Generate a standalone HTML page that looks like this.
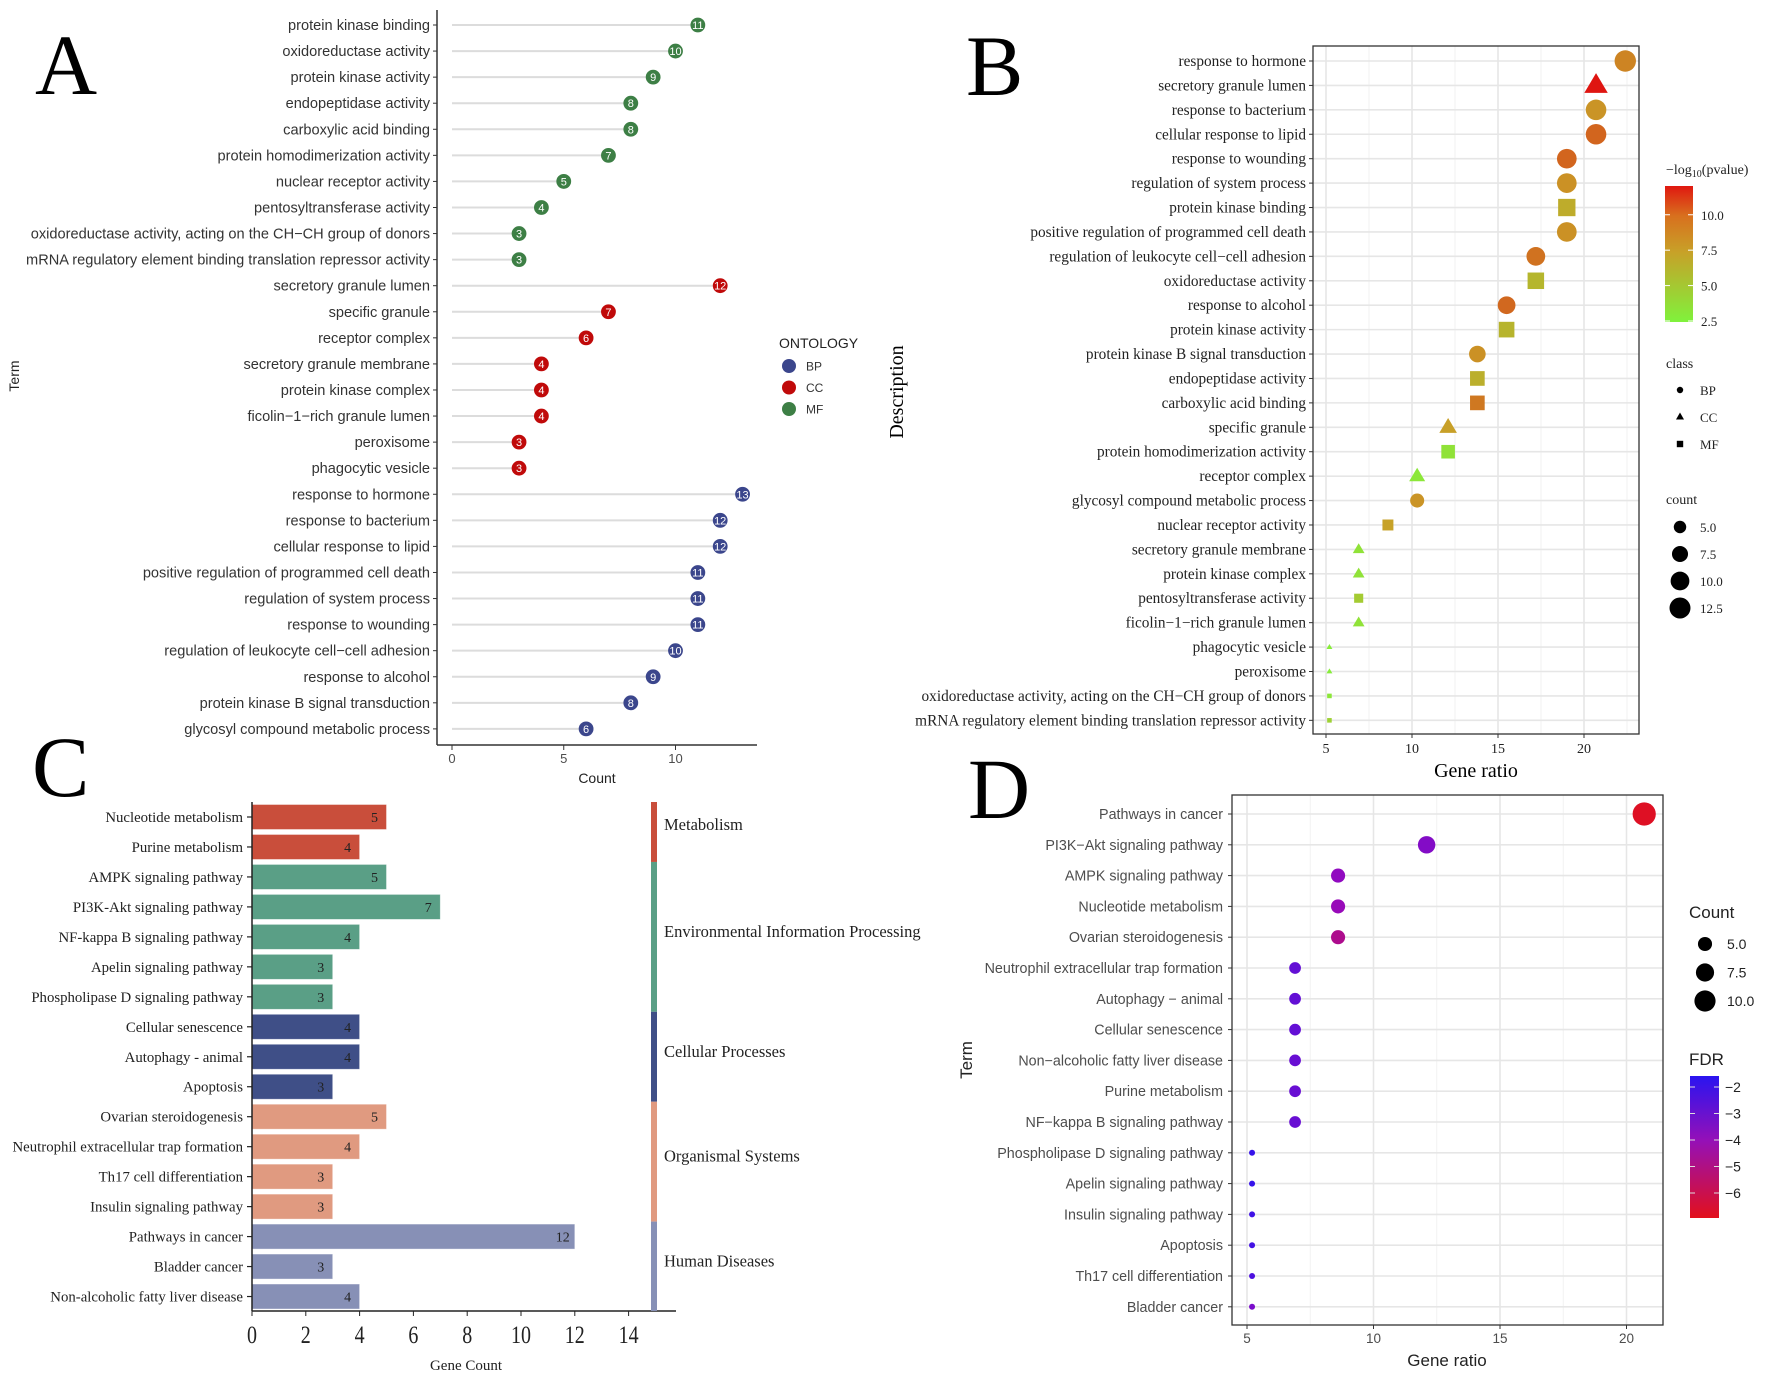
<!DOCTYPE html>
<html><head><meta charset="utf-8"><style>
html,body{margin:0;padding:0;background:#fff}
svg{display:block}
.sans{font-family:"Liberation Sans",sans-serif}
.serif{font-family:"Liberation Serif",serif}
</style></head><body>
<svg id="fig" width="1772" height="1376" viewBox="0 0 1772 1376" xmlns="http://www.w3.org/2000/svg">
<g id="pA"></g>
<g id="pB"></g>
<g id="pC"></g>
<g id="pD"></g>
</svg>
<script>
// ---------- Panel A data ----------
const aTerms = ["protein kinase binding","oxidoreductase activity","protein kinase activity","endopeptidase activity","carboxylic acid binding","protein homodimerization activity","nuclear receptor activity","pentosyltransferase activity","oxidoreductase activity, acting on the CH\u2212CH group of donors","mRNA regulatory element binding translation repressor activity","secretory granule lumen","specific granule","receptor complex","secretory granule membrane","protein kinase complex","ficolin\u22121\u2212rich granule lumen","peroxisome","phagocytic vesicle","response to hormone","response to bacterium","cellular response to lipid","positive regulation of programmed cell death","regulation of system process","response to wounding","regulation of leukocyte cell\u2212cell adhesion","response to alcohol","protein kinase B signal transduction","glycosyl compound metabolic process"];
const aCounts = [11,10,9,8,8,7,5,4,3,3,12,7,6,4,4,4,3,3,13,12,12,11,11,11,10,9,8,6];
const aOnt = ["MF","MF","MF","MF","MF","MF","MF","MF","MF","MF","CC","CC","CC","CC","CC","CC","CC","CC","BP","BP","BP","BP","BP","BP","BP","BP","BP","BP"];
const aTicks = [0,5,10];
// ---------- Panel B data ----------
const bTerms = ["response to hormone","secretory granule lumen","response to bacterium","cellular response to lipid","response to wounding","regulation of system process","protein kinase binding","positive regulation of programmed cell death","regulation of leukocyte cell\u2212cell adhesion","oxidoreductase activity","response to alcohol","protein kinase activity","protein kinase B signal transduction","endopeptidase activity","carboxylic acid binding","specific granule","protein homodimerization activity","receptor complex","glycosyl compound metabolic process","nuclear receptor activity","secretory granule membrane","protein kinase complex","pentosyltransferase activity","ficolin\u22121\u2212rich granule lumen","phagocytic vesicle","peroxisome","oxidoreductase activity, acting on the CH\u2212CH group of donors","mRNA regulatory element binding translation repressor activity"];
const bRatio = [22.4,20.7,20.7,20.7,19.0,19.0,19.0,19.0,17.2,17.2,15.5,15.5,13.8,13.8,13.8,12.1,12.1,10.3,10.3,8.6,6.9,6.9,6.9,6.9,5.2,5.2,5.2,5.2];
const bCount = [13,12,12,12,11,11,11,11,10,10,9,9,8,8,8,7,7,6,6,5,4,4,4,4,3,3,3,3];
const bClass = ["BP","CC","BP","BP","BP","BP","MF","BP","BP","MF","BP","MF","BP","MF","MF","CC","MF","CC","BP","MF","CC","CC","MF","CC","CC","CC","MF","MF"];
const bLogP = [8.4,12.0,7.9,9.4,9.4,8.0,6.8,8.0,9.0,6.2,9.3,6.3,8.0,6.6,8.8,7.5,3.6,3.3,7.9,7.4,3.6,3.6,5.0,3.6,3.0,3.0,3.3,4.6];
const bTicks = [5,10,15,20];
const bColorTicks = [2.5,5.0,7.5,10.0];
const bCountLegend = [5.0,7.5,10.0,12.5];
// ---------- Panel C data ----------
const cTerms = ["Nucleotide metabolism","Purine metabolism","AMPK signaling pathway","PI3K-Akt signaling pathway","NF-kappa B signaling pathway","Apelin signaling pathway","Phospholipase D signaling pathway","Cellular senescence","Autophagy - animal","Apoptosis","Ovarian steroidogenesis","Neutrophil extracellular trap formation","Th17 cell differentiation","Insulin signaling pathway","Pathways in cancer","Bladder cancer","Non-alcoholic fatty liver disease"];
const cCounts = [5,4,5,7,4,3,3,4,4,3,5,4,3,3,12,3,4];
const cCat = [0,0,1,1,1,1,1,2,2,2,3,3,3,3,4,4,4];
const cCatNames = ["Metabolism","Environmental Information Processing","Cellular Processes","Organismal Systems","Human Diseases"];
const cTicks = [0,2,4,6,8,10,12,14];
// ---------- Panel D data ----------
const dTerms = ["Pathways in cancer","PI3K\u2212Akt signaling pathway","AMPK signaling pathway","Nucleotide metabolism","Ovarian steroidogenesis","Neutrophil extracellular trap formation","Autophagy \u2212 animal","Cellular senescence","Non\u2212alcoholic fatty liver disease","Purine metabolism","NF\u2212kappa B signaling pathway","Phospholipase D signaling pathway","Apelin signaling pathway","Insulin signaling pathway","Apoptosis","Th17 cell differentiation","Bladder cancer"];
const dRatio = [20.7,12.1,8.6,8.6,8.6,6.9,6.9,6.9,6.9,6.9,6.9,5.2,5.2,5.2,5.2,5.2,5.2];
const dCount = [12,7,5,5,5,4,4,4,4,4,4,3,3,3,3,3,3];
const dFDR = [-6.8,-3.6,-3.9,-4.1,-4.9,-2.9,-2.9,-2.9,-3.0,-3.0,-3.0,-1.9,-1.9,-2.1,-2.2,-2.4,-3.4];
const dTicks = [5,10,15,20];
const dColorTicks = [-2,-3,-4,-5,-6];
const dCountLegend = [5.0,7.5,10.0];

const NS="http://www.w3.org/2000/svg";
function mk(parent,tag,attrs,txt){const e=document.createElementNS(NS,tag);for(const k in attrs)e.setAttribute(k,attrs[k]);if(txt!==undefined)e.textContent=txt;parent.appendChild(e);return e;}
function lerp(a,b,t){return a+(b-a)*t;}
function mix(c1,c2,t){return "rgb("+Math.round(lerp(c1[0],c2[0],t))+","+Math.round(lerp(c1[1],c2[1],t))+","+Math.round(lerp(c1[2],c2[2],t))+")";}

// ================= Panel A =================
(function(){
const g=document.getElementById('pA');
let t=mk(g,'text',{x:35,y:94,'font-size':86,class:'serif',fill:'#000'},'A');

const x0=452,ux=22.35,y0=25,dy=26.07;
const xs=v=>x0+v*ux, ys=i=>y0+i*dy;
const col={MF:'#3d7f45',CC:'#c00a0a',BP:'#3b468c'};
let ax=mk(g,'line',{x1:437,y1:10,x2:437,y2:745,stroke:'#333','stroke-width':1.5});

let bx=mk(g,'line',{x1:437,y1:745,x2:757,y2:745,stroke:'#333','stroke-width':1.5});

aTicks.forEach(v=>{mk(g,'line',{x1:xs(v),y1:745,x2:xs(v),y2:750,stroke:'#333'});
 let tl=mk(g,'text',{x:xs(v),y:763,'text-anchor':'middle','font-size':13,class:'sans',fill:'#4d4d4d'},v);
 });
let xt=mk(g,'text',{x:597,y:783,'text-anchor':'middle','font-size':14,class:'sans',fill:'#222'},'Count');

let yt=mk(g,'text',{x:0,y:0,transform:'translate(19,376) rotate(-90)','text-anchor':'middle','font-size':14,class:'sans',fill:'#222'},'Term');

aTerms.forEach((term,i)=>{
 const y=ys(i);
 mk(g,'line',{x1:433,y1:y,x2:437,y2:y,stroke:'#333'});
 let l=mk(g,'text',{x:430,y:y+5,'text-anchor':'end','font-size':14.6,class:'sans',fill:'#333'},term);
 
 let s=mk(g,'line',{x1:x0,y1:y,x2:xs(aCounts[i]),y2:y,stroke:'#dcdcdc','stroke-width':2});
 
 let c=mk(g,'circle',{cx:xs(aCounts[i]),cy:y,r:7.4,fill:col[aOnt[i]]});
 
 mk(g,'text',{x:xs(aCounts[i]),y:y+4,'text-anchor':'middle','font-size':11,class:'sans',fill:'#fff'},aCounts[i]);
});
let lt=mk(g,'text',{x:779,y:348,'font-size':14,class:'sans',fill:'#222'},'ONTOLOGY');

["BP","CC","MF"].forEach((k,j)=>{const y=366+j*21.5;
 let c=mk(g,'circle',{cx:789,cy:y,r:7,fill:col[k]});
 
 mk(g,'text',{x:806,y:y+4.5,'font-size':12,class:'sans',fill:'#333'},k);});
})();

// ================= Panel B =================
(function(){
const g=document.getElementById('pB');
let t=mk(g,'text',{x:966,y:95,'font-size':86,class:'serif',fill:'#000'},'B');

const L=1313,R=1639,T=46,B=734;
const xs=v=>1326+(v-5)*17.2, ys=i=>61+i*24.42;
function pcol(v){const g1=[128,245,60],m=[200,160,40],r=[224,18,16];
 const lo=2.5,mid=7.5,hi=12.1;if(v<=mid)return mix(g1,m,Math.max(0,(v-lo)/(mid-lo)));return mix(m,r,Math.min(1,(v-mid)/(hi-mid)));}
const rs=c=>2.6+8.1*Math.sqrt(Math.max(0,c-3)/10);
let bg=mk(g,'rect',{x:L,y:T,width:R-L,height:B-T,fill:'#fff'});

for(let v=2.5;v<=25;v+=5){const x=xs(v);if(x>L&&x<R)mk(g,'line',{x1:x,y1:T,x2:x,y2:B,stroke:'#f2f2f2','stroke-width':1});}
bTicks.forEach(v=>mk(g,'line',{x1:xs(v),y1:T,x2:xs(v),y2:B,stroke:'#e6e6e6','stroke-width':1.6}));
bTerms.forEach((term,i)=>mk(g,'line',{x1:L,y1:ys(i),x2:R,y2:ys(i),stroke:'#e6e6e6','stroke-width':1.6}));
mk(g,'rect',{x:L,y:T,width:R-L,height:B-T,fill:'none',stroke:'#333','stroke-width':1.3});
bTicks.forEach(v=>{mk(g,'line',{x1:xs(v),y1:B,x2:xs(v),y2:B+4,stroke:'#333'});
 let tl=mk(g,'text',{x:xs(v),y:B+19,'text-anchor':'middle','font-size':14,class:'serif',fill:'#222'},v);
 });
let xt=mk(g,'text',{x:1476,y:777,'text-anchor':'middle','font-size':20,class:'serif',fill:'#000'},'Gene ratio');

let yt=mk(g,'text',{x:0,y:0,transform:'translate(903,392) rotate(-90)','text-anchor':'middle','font-size':20,class:'serif',fill:'#000'},'Description');

bTerms.forEach((term,i)=>{const y=ys(i);
 mk(g,'line',{x1:L-4,y1:y,x2:L,y2:y,stroke:'#333'});
 let l=mk(g,'text',{x:L-7,y:y+5,'text-anchor':'end','font-size':15.3,class:'serif',fill:'#222'},term);
 
 const x=xs(bRatio[i]),r=rs(bCount[i]),f=pcol(bLogP[i]);let m;
 if(bClass[i]==='BP')m=mk(g,'circle',{cx:x,cy:y,r:r,fill:f});
 else if(bClass[i]==='MF'){const h=r*0.88;m=mk(g,'rect',{x:x-h,y:y-h,width:2*h,height:2*h,fill:f});}
 else{const h=r*1.2;m=mk(g,'polygon',{points:`${x},${y-h} ${x+h*0.95},${y+h*0.6} ${x-h*0.95},${y+h*0.6}`,fill:f});}
 
});
const lg=mk(g,'g',{});
const tt=mk(lg,'text',{x:1666,y:174,'font-size':14,class:'serif',fill:'#222'});
tt.innerHTML='\u2212log<tspan font-size="10" dy="3">10</tspan><tspan dy="-3">(pvalue)</tspan>';
const defs=mk(g,'defs',{});const gr=mk(defs,'linearGradient',{id:'gB',x1:0,y1:1,x2:0,y2:0});
[[0,'#80f23c'],[0.52,'#c8a028'],[0.78,'#d8701e'],[1,'#e01810']].forEach(s=>mk(gr,'stop',{offset:s[0],'stop-color':s[1]}));
let cb=mk(lg,'rect',{x:1665,y:186,width:28,height:136,fill:'url(#gB)'});

const cy=v=>321-(v-2.5)*(136/9.6);
bColorTicks.forEach(v=>{const y=cy(v);mk(lg,'line',{x1:1665,y1:y,x2:1670,y2:y,stroke:'#fff'});mk(lg,'line',{x1:1688,y1:y,x2:1693,y2:y,stroke:'#fff'});
 mk(lg,'text',{x:1701,y:y+5,'font-size':13,class:'serif',fill:'#222'},v.toFixed(1));});
mk(lg,'text',{x:1666,y:368,'font-size':14,class:'serif',fill:'#222'},'class');
["BP","CC","MF"].forEach((k,j)=>{const y=390+j*27,x=1680;let m;
 if(k==='BP')m=mk(lg,'circle',{cx:x,cy:y,r:3.2,fill:'#000'});
 else if(k==='CC')m=mk(lg,'polygon',{points:`${x},${y-4.5} ${x+4},${y+2.5} ${x-4},${y+2.5}`,fill:'#000'});
 else m=mk(lg,'rect',{x:x-3.2,y:y-3.2,width:6.4,height:6.4,fill:'#000'});
 
 mk(lg,'text',{x:1700,y:y+5,'font-size':13,class:'serif',fill:'#222'},k);});
mk(lg,'text',{x:1666,y:504,'font-size':14,class:'serif',fill:'#222'},'count');
bCountLegend.forEach((v,j)=>{const y=527+j*27;
 let c=mk(lg,'circle',{cx:1680,cy:y,r:rs(v),fill:'#000'});
 
 mk(lg,'text',{x:1700,y:y+5,'font-size':13,class:'serif',fill:'#222'},v.toFixed(1));});
})();

// ================= Panel C =================
(function(){
const g=document.getElementById('pC');
let t=mk(g,'text',{x:32,y:796,'font-size':86,class:'serif',fill:'#000'},'C');

const x0=252,ux=26.9,y0=817,dy=29.97,axY=1311;
const xs=v=>x0+v*ux, ys=i=>y0+i*dy;
const cols=['#c94e3b','#5a9f86','#3f4f87','#e09a80','#8790b6'];
cTerms.forEach((term,i)=>{const y=ys(i);
 let b=mk(g,'rect',{x:x0,y:y-12.5,width:xs(cCounts[i])-x0,height:25,fill:cols[cCat[i]],stroke:'rgba(255,255,255,0.5)','stroke-width':0.8});
 
 let v=mk(g,'text',{x:xs(cCounts[i])-12,y:y+5,'text-anchor':'middle','font-size':14,class:'serif',fill:'#222'},cCounts[i]);
 
 mk(g,'line',{x1:x0-5,y1:y,x2:x0,y2:y,stroke:'#222','stroke-width':1.2});
 let l=mk(g,'text',{x:243,y:y+5,'text-anchor':'end','font-size':14.8,class:'serif',fill:'#222'},term);
 
});
let ya=mk(g,'line',{x1:x0,y1:802,x2:x0,y2:axY,stroke:'#222','stroke-width':1.5});

let xa=mk(g,'line',{x1:x0,y1:axY,x2:676,y2:axY,stroke:'#222','stroke-width':1.5});

cTicks.forEach(v=>{mk(g,'line',{x1:xs(v),y1:axY,x2:xs(v),y2:axY+5,stroke:'#222'});
 let tl=mk(g,'text',{x:xs(v),y:1343,'text-anchor':'middle','font-size':25,class:'serif',fill:'#222',transform:`translate(${xs(v)},0) scale(0.8,1) translate(${-xs(v)},0)`},v);
 });
let xt=mk(g,'text',{x:466,y:1370,'text-anchor':'middle','font-size':15,class:'serif',fill:'#222'},'Gene Count');

cCatNames.forEach((name,k)=>{
 const idx=cCat.map((c,i)=>c===k?i:-1).filter(i=>i>=0);
 const top=k===0?802:ys(idx[0])-dy/2, bot=k===4?axY:ys(idx[idx.length-1])+dy/2;
 let s=mk(g,'rect',{x:651,y:top,width:6,height:bot-top,fill:cols[k]});
 
 let l=mk(g,'text',{x:664,y:(top+bot)/2+(k===0?-2:0),'font-size':16.5,class:'serif',fill:'#222'},name);
 
});
})();

// ================= Panel D =================
(function(){
const g=document.getElementById('pD');
let t=mk(g,'text',{x:968,y:818,'font-size':86,class:'serif',fill:'#000'},'D');

const L=1232,R=1663,T=795,B=1325;
const xs=v=>1247+(v-5)*25.3, ys=i=>814+i*30.8;
function fcol(v){const b=[40,20,240],p=[150,10,190],r=[226,16,28];const tt=(-1.6-v)/5.35;
 if(tt<0.45)return mix(b,p,Math.max(0,tt/0.45));return mix(p,r,Math.min(1,(tt-0.45)/0.55));}
const rs=c=>3+8.6*Math.sqrt(Math.max(0,c-3)/9);
mk(g,'rect',{x:L,y:T,width:R-L,height:B-T,fill:'#fff'});
for(let v=2.5;v<=25;v+=5){const x=xs(v);if(x>L&&x<R)mk(g,'line',{x1:x,y1:T,x2:x,y2:B,stroke:'#f2f2f2','stroke-width':1});}
dTicks.forEach(v=>mk(g,'line',{x1:xs(v),y1:T,x2:xs(v),y2:B,stroke:'#e6e6e6','stroke-width':1.6}));
dTerms.forEach((term,i)=>mk(g,'line',{x1:L,y1:ys(i),x2:R,y2:ys(i),stroke:'#e6e6e6','stroke-width':1.6}));
let fr=mk(g,'rect',{x:L,y:T,width:R-L,height:B-T,fill:'none',stroke:'#333','stroke-width':1.3});

dTicks.forEach(v=>{mk(g,'line',{x1:xs(v),y1:B,x2:xs(v),y2:B+4,stroke:'#333'});
 let tl=mk(g,'text',{x:xs(v),y:B+18,'text-anchor':'middle','font-size':13.5,class:'sans',fill:'#4d4d4d'},v);
 });
let xt=mk(g,'text',{x:1447,y:1366,'text-anchor':'middle','font-size':17,class:'sans',fill:'#222'},'Gene ratio');

let yt=mk(g,'text',{x:0,y:0,transform:'translate(972,1060) rotate(-90)','text-anchor':'middle','font-size':17,class:'sans',fill:'#222'},'Term');

dTerms.forEach((term,i)=>{const y=ys(i);
 mk(g,'line',{x1:L-4,y1:y,x2:L,y2:y,stroke:'#333'});
 let l=mk(g,'text',{x:L-9,y:y+5,'text-anchor':'end','font-size':14.3,class:'sans',fill:'#4d4d4d'},term);
 
 let c=mk(g,'circle',{cx:xs(dRatio[i]),cy:y,r:rs(dCount[i]),fill:fcol(dFDR[i])});
 
});
const lg=mk(g,'g',{});
mk(lg,'text',{x:1689,y:918,'font-size':17,class:'sans',fill:'#222'},'Count');
dCountLegend.forEach((v,j)=>{const y=944+j*28.5;
 let c=mk(lg,'circle',{cx:1705,cy:y,r:rs(v),fill:'#000'});
 
 mk(lg,'text',{x:1727,y:y+5,'font-size':14,class:'sans',fill:'#222'},v.toFixed(1));});
mk(lg,'text',{x:1689,y:1065,'font-size':17,class:'sans',fill:'#222'},'FDR');
const defs=mk(g,'defs',{});const gr=mk(defs,'linearGradient',{id:'gD',x1:0,y1:0,x2:0,y2:1});
[[0,'#2a14f0'],[0.45,'#9410b8'],[1,'#e2101c']].forEach(s=>mk(gr,'stop',{offset:s[0],'stop-color':s[1]}));
let cb=mk(lg,'rect',{x:1690,y:1076,width:29,height:142,fill:'url(#gD)'});

dColorTicks.forEach(v=>{const y=1087+(-2-v)*26.5;
 mk(lg,'line',{x1:1690,y1:y,x2:1695,y2:y,stroke:'#ddd'});mk(lg,'line',{x1:1714,y1:y,x2:1719,y2:y,stroke:'#ddd'});
 mk(lg,'text',{x:1725,y:y+5,'font-size':14,class:'sans',fill:'#222'},'\u2212'+Math.abs(v));});
})();
</script>
</body></html>
